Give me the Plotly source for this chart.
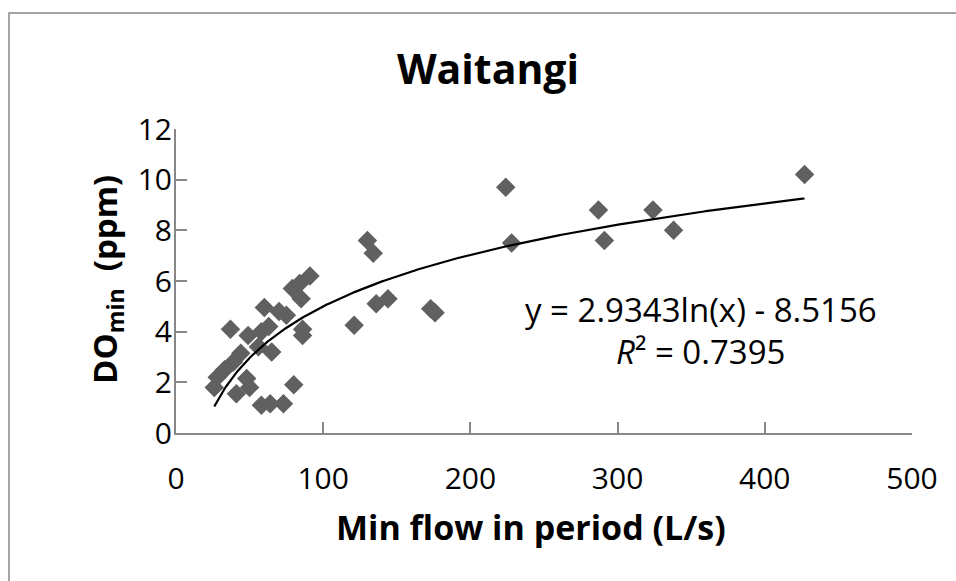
import numpy as np
import plotly.graph_objects as go

# Data
min_flow = [427, 224, 287, 324, 291, 338, 228, 130, 134, 136, 144, 121, 173, 176,
            91, 84, 79, 85, 60, 70, 75, 86, 86, 37, 49, 58, 63, 65, 56, 44, 39,
            33, 28, 26, 48, 50, 41, 80, 58, 64, 73]
do_min = [10.2, 9.7, 8.8, 8.8, 7.6, 8.0, 7.5, 7.6, 7.1, 5.1, 5.3, 4.25, 4.9, 4.75,
          6.2, 5.9, 5.7, 5.3, 4.95, 4.8, 4.65, 4.1, 3.85, 4.1, 3.85, 4.0, 4.2, 3.2, 3.4, 3.15, 2.8,
          2.5, 2.2, 1.8, 2.15, 1.8, 1.55, 1.9, 1.1, 1.15, 1.15]

# Logarithmic trendline coefficients as printed on the chart
trend_a = 2.9343
trend_b = -8.5156
r_squared = 0.7395

x_ticks = [0, 100, 200, 300, 400, 500]
y_ticks = [0, 2, 4, 6, 8, 10, 12]

FONT = "Open Sans, sans-serif"
AXIS_GRAY = "#878787"

tx = np.linspace(min(min_flow), max(min_flow), 300)
ty = trend_a * np.log(tx) + trend_b

fig = go.Figure()
fig.add_trace(go.Scatter(
    x=min_flow, y=do_min, mode="markers",
    marker=dict(symbol="diamond", size=15, color="#606060", line=dict(width=0)),
    showlegend=False, hoverinfo="x+y"))
fig.add_trace(go.Scatter(
    x=tx, y=ty, mode="lines", line=dict(color="black", width=2.2),
    showlegend=False, hoverinfo="skip"))

fig.update_layout(
    width=956, height=581,
    margin=dict(l=176, r=44, t=129, b=148),
    paper_bgcolor="white", plot_bgcolor="white",
    font=dict(family=FONT, size=30, color="black"),
    title=dict(text="<b>Waitangi</b>", x=488 / 956, xanchor="center",
               y=1 - 70 / 581, yanchor="middle",
               font=dict(family=FONT, size=41, color="black")),
    xaxis=dict(range=[0, 500], tickvals=x_ticks, showgrid=False, zeroline=False,
               showline=True, linecolor=AXIS_GRAY, linewidth=2,
               ticks="inside", ticklen=11, tickwidth=2, tickcolor=AXIS_GRAY,
               ticklabelstandoff=18, tickfont=dict(size=30, family=FONT)),
    yaxis=dict(range=[0, 12], tickvals=y_ticks, showgrid=False, zeroline=False,
               showline=True, linecolor=AXIS_GRAY, linewidth=2,
               ticks="inside", ticklen=11, tickwidth=2, tickcolor=AXIS_GRAY,
               ticklabelstandoff=-4, tickfont=dict(size=30, family=FONT)),
    shapes=[dict(type="rect", xref="paper", yref="paper",
                 x0=(9 - 176) / 736, x1=1.3, y0=-0.8, y1=(433 - 13) / 304,
                 line=dict(color=AXIS_GRAY, width=1.5), layer="below")],
    annotations=[
        dict(text="<b>Min flow in period (L/s)</b>", xref="paper", yref="paper",
             x=(531 - 176) / 736, y=(433 - 527) / 304, xanchor="center", yanchor="middle",
             showarrow=False, font=dict(size=34, family=FONT)),
        dict(text="<b>DO<sub>min</sub>  (ppm)</b>", xref="paper", yref="paper",
             x=(106 - 176) / 736, y=(433 - 280) / 304, xanchor="center", yanchor="middle",
             textangle=-90, showarrow=False, font=dict(size=33, family=FONT)),
        dict(text=f"y = {trend_a}ln(x) - {abs(trend_b)}", xref="x", yref="y",
             x=356.7, y=4.88, xanchor="center", yanchor="middle",
             showarrow=False, font=dict(size=33, family=FONT)),
        dict(text=f"<i>R</i>² = {r_squared}", xref="x", yref="y",
             x=356, y=3.23, xanchor="center", yanchor="middle",
             showarrow=False, font=dict(size=33, family=FONT)),
    ],
)

fig.write_html("out.html")
